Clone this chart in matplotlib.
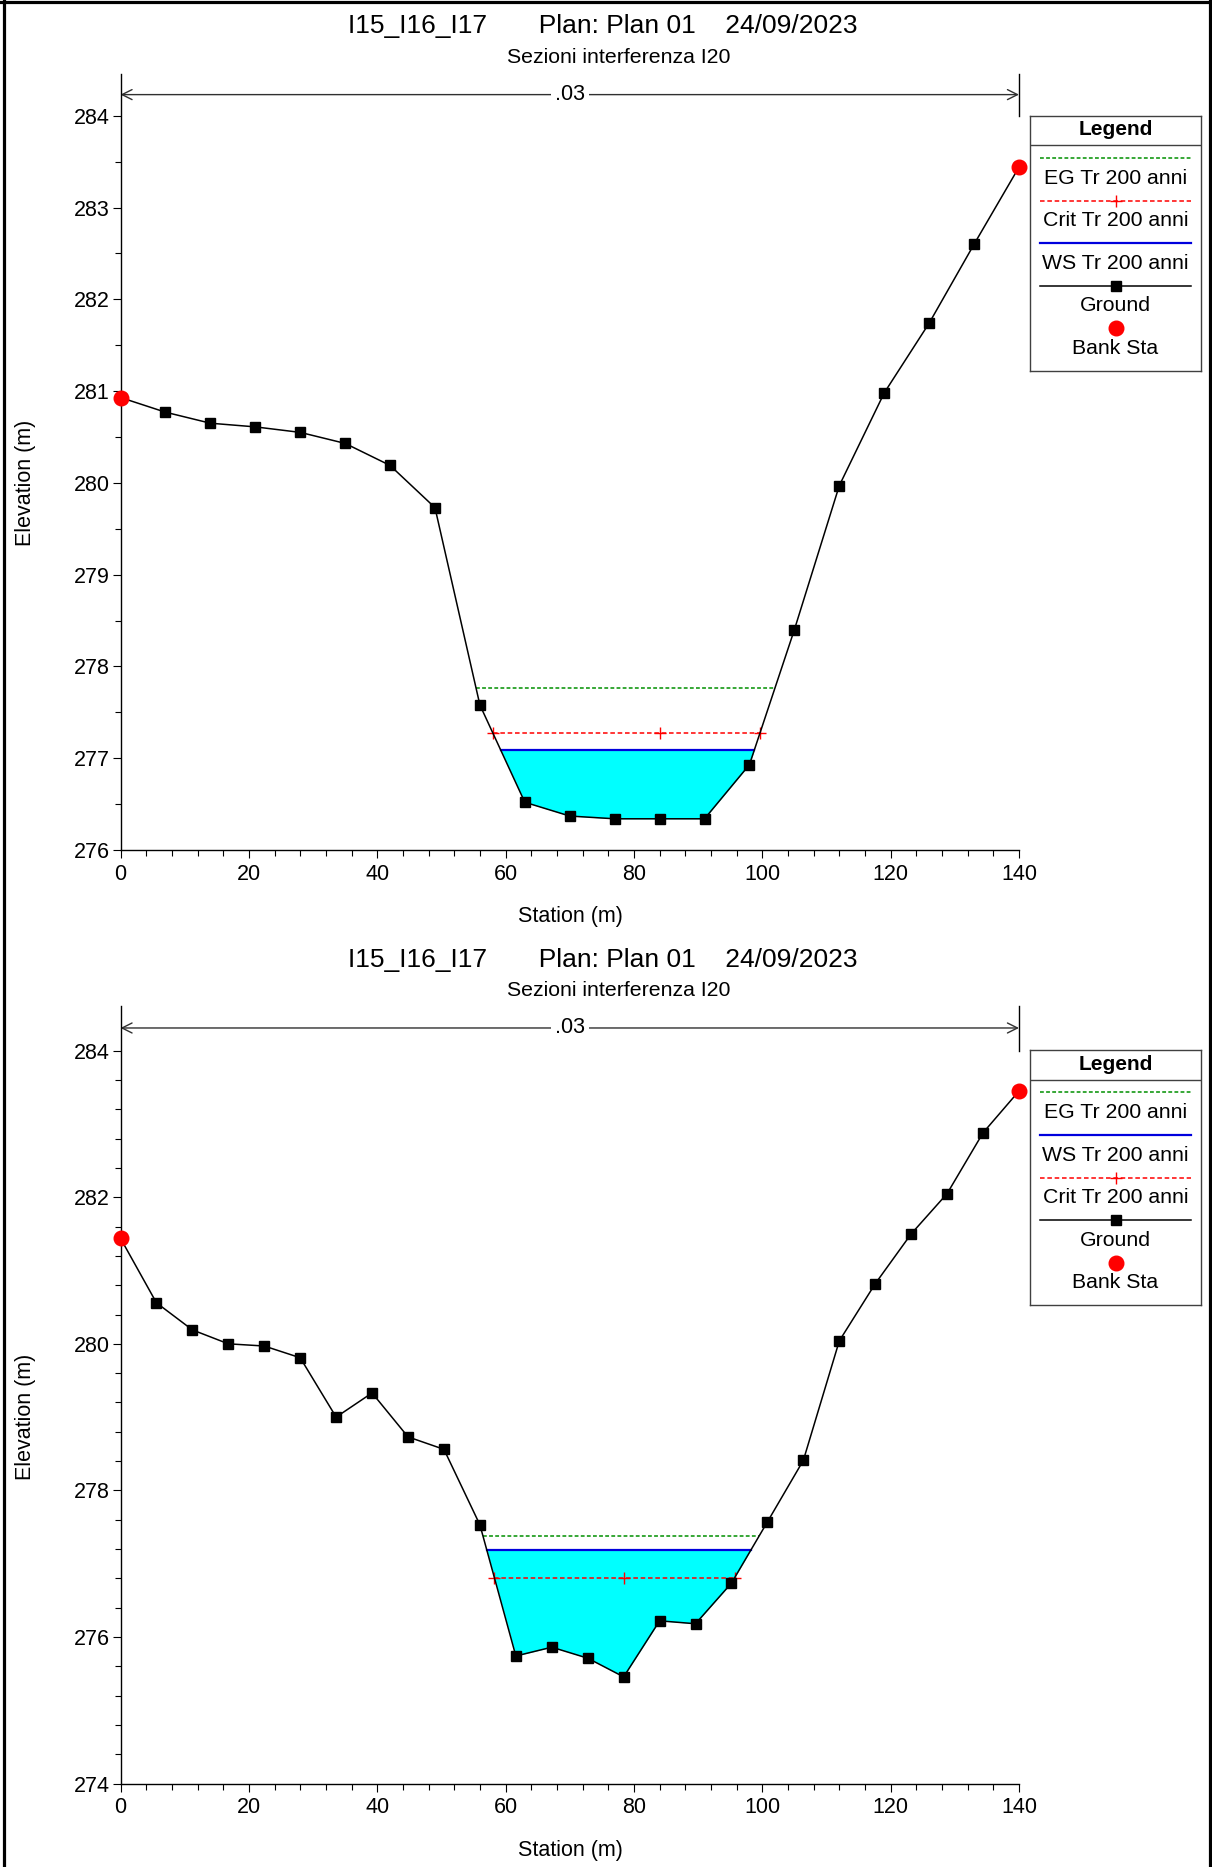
import numpy as np
import matplotlib
matplotlib.use("Agg")
import matplotlib.pyplot as plt
from matplotlib.lines import Line2D

plt.rcParams['font.family'] = ['Liberation Sans', 'DejaVu Sans']

# ---------------- data ----------------
title_main = "I15_I16_I17       Plan: Plan 01    24/09/2023"
subtitle = "Sezioni interferenza I20"

# Top section
sta_top = [0, 7, 14, 21, 28, 35, 42, 49, 56, 63, 70, 77, 84, 91, 98,
           105, 112, 119, 126, 133, 140]
elev_top = [280.93, 280.77, 280.65, 280.61, 280.55, 280.43, 280.19, 279.73,
            277.58, 276.52, 276.37, 276.34, 276.34, 276.34, 276.93,
            278.40, 279.97, 280.98, 281.74, 282.60, 283.44]
ws_top = 277.09
eg_top = 277.76
crit_top = 277.28
crit_mid_top = 84
bank_top = [0, 140]

# Bottom section
sta_bot = [0, 5.6, 11.2, 16.8, 22.4, 28, 33.6, 39.2, 44.8, 50.4, 56, 61.6,
           67.2, 72.8, 78.4, 84, 89.6, 95.2, 100.8, 106.4, 112, 117.6, 123.2,
           128.8, 134.4, 140]
elev_bot = [281.44, 280.56, 280.19, 280.00, 279.97, 279.81, 279.00, 279.33,
            278.73, 278.56, 277.53, 275.74, 275.86, 275.71, 275.455, 276.22,
            276.18, 276.735, 277.57, 278.41, 280.04, 280.82, 281.50, 282.05,
            282.88, 283.45]
ws_bot = 277.19
eg_bot = 277.38
crit_bot = 276.81
crit_mid_bot = 78.4
bank_bot = [0, 140]

manning_n = ".03"
manning_sta = [0, 140]

legend_top = ["EG Tr 200 anni", "Crit Tr 200 anni", "WS Tr 200 anni", "Ground", "Bank Sta"]
legend_bot = ["EG Tr 200 anni", "WS Tr 200 anni", "Crit Tr 200 anni", "Ground", "Bank Sta"]

# ---------------- figure ----------------
W, H = 1212, 1867
fig = plt.figure(figsize=(W / 100, H / 100), dpi=100)

def px_axes(x0, y0, x1, y1):
    return fig.add_axes([x0 / W, 1 - y1 / H, (x1 - x0) / W, (y1 - y0) / H])

EG_C = '#009000'
CRIT_C = '#ff0000'
WS_C = '#0000dd'

def crossings(sta, elev, level):
    sta = np.asarray(sta, float)
    elev = np.asarray(elev, float)
    below = np.where(elev < level)[0]
    i0, i1 = below[0], below[-1]
    xl = np.interp(level, [elev[i0], elev[i0 - 1]], [sta[i0], sta[i0 - 1]])
    xr = np.interp(level, [elev[i1], elev[i1 + 1]], [sta[i1], sta[i1 + 1]])
    return xl, xr

def panel(ax, sta, elev, ws, eg, crit, crit_mid, bank, ylim, major, minor, n_y):
    sta_a = np.asarray(sta, float)
    elev_a = np.asarray(elev, float)
    ax.fill_between(sta_a, elev_a, ws, where=elev_a <= ws, interpolate=True,
                    color='#00ffff', lw=0, zorder=1)
    wl, wr = crossings(sta, elev, ws)
    ax.plot([wl, wr], [ws, ws], color=WS_C, lw=1.6, zorder=3)
    el, er = crossings(sta, elev, eg)
    ax.plot([el, er], [eg, eg], color=EG_C, lw=1.1, ls=(0, (2.5, 1.5)), zorder=3)
    cl, cr = crossings(sta, elev, crit)
    ax.plot([cl, cr], [crit, crit], color=CRIT_C, lw=1.1, ls=(0, (3, 1.8)), zorder=3)
    ax.plot([cl, crit_mid, cr], [crit] * 3, ls='none', marker='+', ms=8,
            mew=1.0, color=CRIT_C, zorder=4)
    ax.plot(sta_a, elev_a, color='black', lw=1.1, marker='s', ms=6.6,
            mfc='black', mec='black', zorder=5)
    bank_el = np.interp(bank, sta_a, elev_a)
    ax.plot(bank, bank_el, ls='none', marker='o', ms=10.5, color='#ff0000',
            mec='#ff0000', zorder=6, clip_on=False)

    ax.set_xlim(0, 140)
    ax.set_ylim(*ylim)
    for s in ['top', 'right']:
        ax.spines[s].set_visible(False)
    for s in ['left', 'bottom']:
        ax.spines[s].set_linewidth(1.0)
    ax.set_xticks(np.arange(0, 141, 20))
    ax.set_xticks(np.arange(0, 141, 4), minor=True)
    ax.set_yticks(np.arange(ylim[0], 284.01, major))
    ax.set_yticks(np.arange(ylim[0], 284.01, minor), minor=True)
    ax.yaxis.set_major_formatter(matplotlib.ticker.FormatStrFormatter('%d'))
    ax.tick_params(which='major', direction='out', length=6, width=0.8,
                   labelsize=15.5, pad=2)
    ax.tick_params(which='minor', direction='out', length=4, width=0.8)
    ax.tick_params(axis='x', which='major', pad=4)

    # Manning's n marker
    ax.annotate('', xy=(manning_sta[0], n_y), xytext=(manning_sta[1], n_y),
                arrowprops=dict(arrowstyle='<->', color='#303030', lw=1.0,
                                shrinkA=0, shrinkB=0, mutation_scale=18),
                annotation_clip=False, zorder=2)
    ax.plot([manning_sta[1], manning_sta[1]], [284.0, ylim[1]], color='black',
            lw=1.0, clip_on=False)
    ax.text(np.mean(manning_sta), n_y, manning_n, ha='center', va='center',
            fontsize=15.5, zorder=3,
            bbox=dict(facecolor='white', edgecolor='none', pad=3))

def legend(x0, y0, labels):
    x1, y1 = x0 + 171, y0 + 255
    lax = px_axes(x0, y0, x1, y1)
    lax.set_xlim(x0, x1)
    lax.set_ylim(y1, y0)
    lax.set_xticks([])
    lax.set_yticks([])
    for s in lax.spines.values():
        s.set_color('#404040')
        s.set_linewidth(1.0)
    lax.text((x0 + x1) / 2, y0 + 14, "Legend", ha='center', va='center',
             fontsize=15, fontweight='bold')
    lax.plot([x0, x1], [y0 + 29.5, y0 + 29.5], color='#404040', lw=1.0)
    lx0, lx1 = x0 + 10, x1 - 10
    xm = (lx0 + lx1) / 2
    for k, lab in enumerate(labels):
        yl = y0 + 42.4 + 42.6 * k
        yt = yl + 20
        if lab.startswith("EG"):
            lax.plot([lx0, lx1], [yl, yl], color=EG_C, lw=1.1, ls=(0, (2.5, 1.5)))
        elif lab.startswith("Crit"):
            lax.plot([lx0, lx1], [yl, yl], color=CRIT_C, lw=1.1, ls=(0, (3, 1.8)))
            lax.plot([xm], [yl], marker='+', ms=8, mew=1.0, color=CRIT_C)
        elif lab.startswith("WS"):
            lax.plot([lx0, lx1], [yl, yl], color=WS_C, lw=1.6)
        elif lab == "Ground":
            lax.plot([lx0, lx1], [yl, yl], color='black', lw=1.1)
            lax.plot([xm], [yl], marker='s', ms=6.6, color='black')
        else:
            lax.plot([xm], [yl], marker='o', ms=10.5, color='#ff0000')
        lax.text(xm, yt, lab, ha='center', va='center', fontsize=15.3)

# Top panel
ax1 = px_axes(120.5, 73.5, 1019, 850)
panel(ax1, sta_top, elev_top, ws_top, eg_top, crit_top, crit_mid_top, bank_top,
      (276, 284.46), 1, 0.5, 284.23)
# Bottom panel
ax2 = px_axes(120.5, 1006, 1019, 1783.5)
panel(ax2, sta_bot, elev_bot, ws_bot, eg_bot, crit_bot, crit_mid_bot, bank_bot,
      (274, 284.61), 2, 0.4, 284.31)

legend(1030, 115.7, legend_top)
legend(1030, 1050, legend_bot)

# Titles and labels
for ty, sy, ly, ey in [(26.2, 57.2, 916.4, 483), (959.6, 990.6, 1850.4, 1417)]:
    fig.text(603 / W, 1 - ty / H, title_main, ha='center', va='center', fontsize=19)
    fig.text(618.6 / W, 1 - sy / H, subtitle, ha='center', va='center', fontsize=15.3)
    fig.text(570 / W, 1 - ly / H, "Station (m)", ha='center', va='center', fontsize=15.5)
    fig.text(26 / W, 1 - ey / H, "Elevation (m)", ha='center', va='center',
             fontsize=15.5, rotation=90)

# Outer frame (left, top, right)
for xs, ys in [([3.5, 3.5], [0, H]), ([0, W], [2, 2]), ([1209.5, 1209.5], [0, H])]:
    fig.add_artist(Line2D([x / W for x in xs], [1 - y / H for y in ys],
                          color='black', lw=2.3, transform=fig.transFigure))

fig.savefig("out.png", dpi=100)
